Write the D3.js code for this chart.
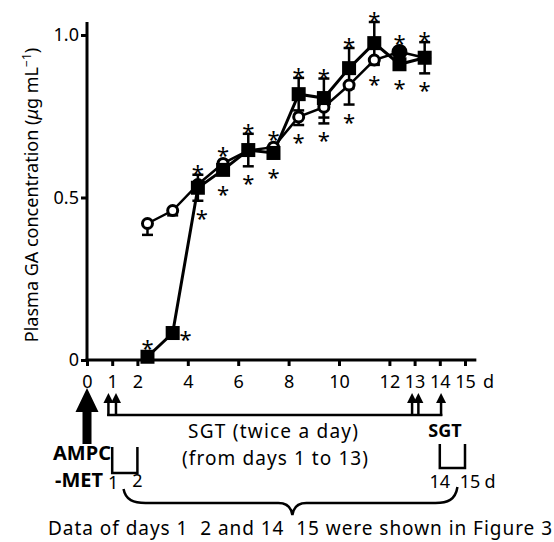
<!DOCTYPE html>
<html>
<head>
<meta charset="utf-8">
<script src="https://cdn.jsdelivr.net/npm/d3@7"></script>
<style>
  body { margin: 0; background: #fff; }
  text { font-family: "Noto Sans", "Open Sans", sans-serif; fill: #000; }
</style>
</head>
<body>
<div id="chart"></div>
<script>
// Sampling days (plotted slightly after each day mark, as in the figure)
const days = [2.4, 3.4, 4.4, 5.4, 6.4, 7.4, 8.4, 9.4, 10.4, 11.4, 12.4, 13.4];

// Filled squares series
const squareMean = [0.01, 0.083, 0.53, 0.585, 0.646, 0.637, 0.818, 0.806, 0.898, 0.975, 0.91, 0.93];
const squareErr  = [0, 0, 0.04, 0.015, 0.05, 0.015, 0.05, 0.06, 0.062, 0.065, 0.015, 0.048];

// Open circles series (only the lower half of the bar is drawn)
const circleMean = [0.42, 0.46, 0.54, 0.605, 0.645, 0.655, 0.748, 0.778, 0.846, 0.923, 0.948, 0.93];
const circleErr  = [0.035, 0.015, 0.015, 0.015, 0.015, 0.015, 0.025, 0.05, 0.06, 0.015, 0.015, 0.015];
const circleSolid = [false, false, false, false, false, false, false, false, false, false, true, false];

// Where the significance asterisks go for each point
const starMarks = ['sqtop', 'right', 'top lowright', 'top bottom', 'top bottom', 'top bottom',
                   'top bottom', 'top bottom', 'top bottom', 'top bottom', 'top bottom', 'top bottom'];

// Axis ticks
const xTicks = [0, 1, 2, 4, 6, 8, 10, 12, 13, 14, 15];
const yTicks = [0, 0.5, 1.0];
const yTickLabels = ['0', '0.5', '1.0'];

// Dosing schedule under the axis
const bigDoseDay = 0;
const smallDoseDays = [0.85, 1.15, 12.9, 13.15, 14.05];

const width = 554, height = 542;

const svg = d3.select('#chart').append('svg')
    .attr('width', width)
    .attr('height', height);

// Scales
const x = d3.scaleLinear().domain([0, 15]).range([87, 465]);
const y = d3.scaleLinear().domain([0, 1]).range([360, 35]);

// Y axis
const yAxis = svg.append('g')
    .attr('transform', `translate(${x(0)},0)`)
    .call(d3.axisLeft(y)
        .tickValues(yTicks)
        .tickFormat((d, i) => yTickLabels[i])
        .tickSize(6)
        .tickSizeOuter(0)
        .tickPadding(2));
yAxis.select('.domain').remove();
yAxis.selectAll('line').attr('stroke', '#000').attr('stroke-width', 3);
yAxis.selectAll('text').style('font-size', '18px').attr('font-family', null);
svg.append('line')
    .attr('x1', x(0)).attr('x2', x(0))
    .attr('y1', y(0) + 1.5).attr('y2', y(1.04))
    .attr('stroke', '#000').attr('stroke-width', 3);

// X axis
const xAxis = svg.append('g')
    .attr('transform', `translate(0,${y(0)})`)
    .call(d3.axisBottom(x)
        .tickValues(xTicks)
        .tickSize(6)
        .tickSizeOuter(0)
        .tickPadding(9));
xAxis.select('.domain').remove();
xAxis.selectAll('line').attr('stroke', '#000').attr('stroke-width', 3);
xAxis.selectAll('text').style('font-size', '18px').attr('font-family', null);
svg.append('line')
    .attr('x1', x(0) - 1.5).attr('x2', x(15.45))
    .attr('y1', y(0)).attr('y2', y(0))
    .attr('stroke', '#000').attr('stroke-width', 3);
svg.append('text')
    .attr('x', x(15) + 18).attr('y', y(0) + 28)
    .style('font-size', '18px')
    .text('d');

// Y axis label
svg.append('text')
    .attr('transform', `translate(38,${(y(0) + y(1.04)) / 2 + 4}) rotate(-90)`)
    .attr('text-anchor', 'middle')
    .style('font-size', '18px')
    .html('Plasma GA concentration (<tspan font-style="italic">μ</tspan>g mL<tspan dy="-7" font-size="12px">−1</tspan><tspan dy="7">)</tspan>');

// Lines
const lineGen = d3.line().x(d => x(d[0])).y(d => y(d[1]));
svg.append('path')
    .datum(days.map((d, i) => [d, circleMean[i]]))
    .attr('d', lineGen)
    .attr('fill', 'none').attr('stroke', '#000').attr('stroke-width', 2.5);
svg.append('path')
    .datum(days.map((d, i) => [d, squareMean[i]]))
    .attr('d', lineGen)
    .attr('fill', 'none').attr('stroke', '#000').attr('stroke-width', 3);

// Error bars
function errorBars(means, errs, withUpper) {
    const g = svg.append('g').attr('stroke', '#000').attr('stroke-width', 2.5);
    days.forEach((d, i) => {
        if (!errs[i]) return;
        const cx = x(d), mid = y(means[i]);
        const hi = y(means[i] + errs[i]), lo = y(means[i] - errs[i]);
        g.append('line').attr('x1', cx).attr('x2', cx).attr('y1', withUpper ? hi : mid).attr('y2', lo);
        if (withUpper) g.append('line').attr('x1', cx - 5.5).attr('x2', cx + 5.5).attr('y1', hi).attr('y2', hi);
        g.append('line').attr('x1', cx - 5.5).attr('x2', cx + 5.5).attr('y1', lo).attr('y2', lo);
    });
}
errorBars(circleMean, circleErr, false);
errorBars(squareMean, squareErr, true);

// Circles
svg.append('g').selectAll('circle')
    .data(days)
    .enter()
    .append('circle')
    .attr('cx', d => x(d))
    .attr('cy', (d, i) => y(circleMean[i]))
    .attr('r', (d, i) => circleSolid[i] ? 6.5 : 5)
    .attr('fill', (d, i) => circleSolid[i] ? '#000' : '#fff')
    .attr('stroke', '#000')
    .attr('stroke-width', 3);

// Squares
svg.append('g').selectAll('rect')
    .data(days)
    .enter()
    .append('rect')
    .attr('x', d => x(d) - 7)
    .attr('y', (d, i) => y(squareMean[i]) - 7)
    .attr('width', 14)
    .attr('height', 14)
    .attr('fill', '#000');

// Asterisks
const stars = svg.append('g').style('font-size', '22px').attr('text-anchor', 'middle');
days.forEach((d, i) => {
    const cx = x(d);
    const sqTop = Math.min(y(squareMean[i] + squareErr[i]), y(squareMean[i]) - 7);
    const topY = Math.min(sqTop, y(circleMean[i]) - 6.5);
    const botY = Math.max(y(squareMean[i] - squareErr[i]), y(circleMean[i] - circleErr[i]),
                          y(squareMean[i]) + 7, y(circleMean[i]) + 6.5);
    const marks = starMarks[i].split(' ');
    const put = (px, py) => stars.append('text').attr('x', px).attr('y', py + 14).text('*');
    if (marks.includes('sqtop')) put(cx, sqTop - 8);
    if (marks.includes('top')) put(cx, topY - 8);
    if (marks.includes('bottom')) put(cx, botY + 11);
    if (marks.includes('lowright')) put(cx + 4, botY + 11);
    if (marks.includes('right')) put(cx + 13, y(squareMean[i]));
});

// Dosing arrows
const bx = x(bigDoseDay);
svg.append('path')
    .attr('d', `M${bx},388 L${bx + 11.5},412 L${bx + 4.5},412 L${bx + 4.5},444 L${bx - 4.5},444 L${bx - 4.5},412 L${bx - 11.5},412 Z`)
    .attr('fill', '#000');

smallDoseDays.forEach(d => {
    const ax = x(d);
    svg.append('path')
        .attr('d', `M${ax},393 L${ax + 5},403 L${ax - 5},403 Z`)
        .attr('fill', '#000');
    svg.append('line')
        .attr('x1', ax).attr('x2', ax).attr('y1', 401).attr('y2', 416)
        .attr('stroke', '#000').attr('stroke-width', 2.5);
});
svg.append('line')
    .attr('x1', x(smallDoseDays[0]) - 1.25).attr('x2', x(smallDoseDays[smallDoseDays.length - 1]) + 1.25)
    .attr('y1', 415).attr('y2', 415)
    .attr('stroke', '#000').attr('stroke-width', 2.5);

// Schedule text
svg.append('text')
    .attr('x', 188).attr('y', 438)
    .attr('textLength', 170).attr('lengthAdjust', 'spacing')
    .style('font-size', '19px')
    .text('SGT (twice a day)');
svg.append('text')
    .attr('x', 182).attr('y', 465)
    .attr('textLength', 186).attr('lengthAdjust', 'spacing')
    .style('font-size', '19px')
    .text('(from days 1 to 13)');
svg.append('text')
    .attr('x', 445).attr('y', 437)
    .attr('text-anchor', 'middle')
    .style('font-size', '18px')
    .style('font-weight', 'bold')
    .text('SGT');
svg.append('text')
    .attr('x', 111).attr('y', 460)
    .attr('text-anchor', 'end')
    .style('font-size', '20px')
    .style('font-weight', 'bold')
    .text('AMPC');
svg.append('text')
    .attr('x', 103).attr('y', 487)
    .attr('text-anchor', 'end')
    .style('font-size', '20px')
    .style('font-weight', 'bold')
    .text('-MET');

// Brackets marking days 1-2 and 14-15
function bracket(d0, d1, top, bottom) {
    svg.append('path')
        .attr('d', `M${x(d0)},${top} L${x(d0)},${bottom} L${x(d1)},${bottom} L${x(d1)},${top}`)
        .attr('fill', 'none').attr('stroke', '#000').attr('stroke-width', 2.5);
}
bracket(1, 2, 447, 473);
bracket(14, 15, 444, 468);

svg.append('text').attr('x', x(1) + 1).attr('y', 489).attr('text-anchor', 'middle').style('font-size', '18px').text('1');
svg.append('text').attr('x', x(2)).attr('y', 487).attr('text-anchor', 'middle').style('font-size', '18px').text('2');
svg.append('text').attr('x', x(14)).attr('y', 488).attr('text-anchor', 'middle').style('font-size', '18px').text('14');
svg.append('text').attr('x', x(15) + 5).attr('y', 488).attr('text-anchor', 'middle').style('font-size', '18px').text('15');
svg.append('text').attr('x', x(15) + 25).attr('y', 488).attr('text-anchor', 'middle').style('font-size', '18px').text('d');

// Curly brace under the day labels
const bl = x(1.45), br = x(14.7), bm = x(8.15);
svg.append('path')
    .attr('d', `M${bl},489 C${bl + 2},500 ${bl + 10},503 ${bl + 22},503 L${bm - 14},503 C${bm - 5},503 ${bm - 1},508 ${bm},515 ` +
               `C${bm + 1},508 ${bm + 5},503 ${bm + 14},503 L${br - 22},503 C${br - 10},503 ${br - 2},500 ${br},487`)
    .attr('fill', 'none').attr('stroke', '#000').attr('stroke-width', 2.5);

svg.append('text')
    .attr('x', 48).attr('y', 535)
    .attr('textLength', 504).attr('lengthAdjust', 'spacing')
    .style('font-size', '19px')
    .style('white-space', 'pre')
    .text('Data of days 1  2 and 14  15 were shown in Figure 3');
</script>
</body>
</html>
